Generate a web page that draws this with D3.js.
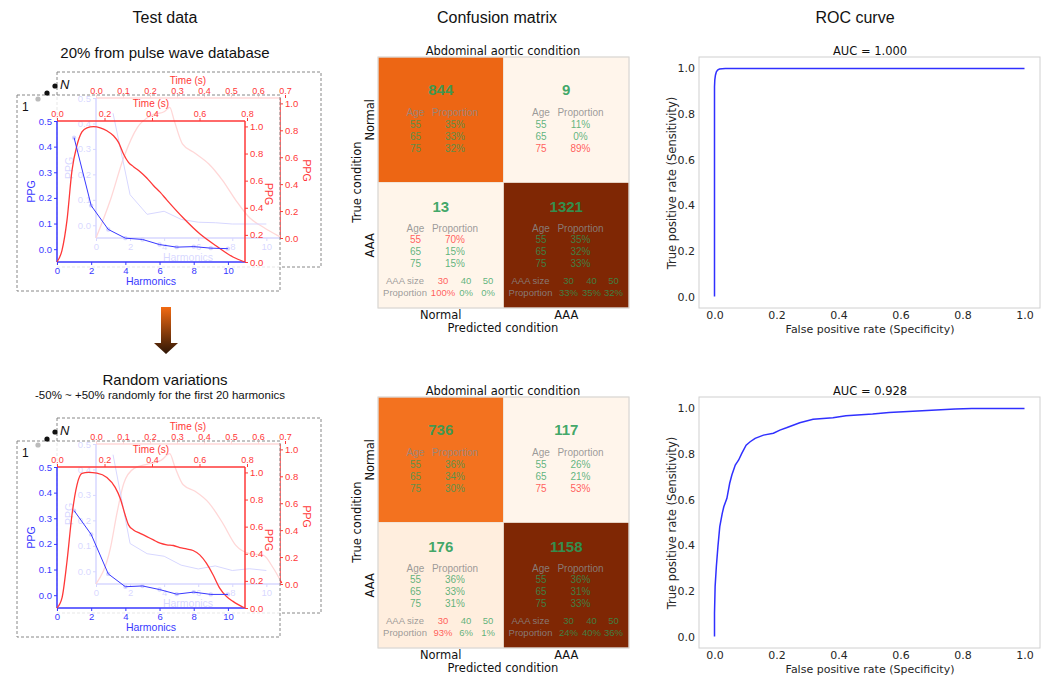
<!DOCTYPE html>
<html>
<head>
<meta charset="utf-8">
<script src="https://cdn.jsdelivr.net/npm/d3@7"></script>
<style>
  body { margin: 0; background: #fff; }
</style>
</head>
<body>
<div id="chart"></div>
<script>
// ---- data ----
const harmonics = [1, 2, 3, 4, 5, 6, 7, 8, 9, 10];
const harmTop = [0.435, 0.17, 0.077, 0.043, 0.038, 0.018, 0.008, 0.01, 0.004, 0.002];
const harmTopBack = [0.44, 0.12, 0.043, 0.055, 0.023, 0.012, 0.01, 0.005, 0.005, 0.005];
const harmBot = [0.33, 0.237, 0.083, 0.033, 0.036, 0.022, 0.004, 0.012, 0.003, 0.003];
const harmBotBack = [0.458, 0.109, 0.069, 0.059, 0.024, 0.009, 0.021, 0.003, 0.01, 0.003];

const waveTimeTop = [0, 0.021, 0.042, 0.063, 0.084, 0.105, 0.126, 0.154, 0.182, 0.21, 0.238, 0.259, 0.28, 0.301, 0.322, 0.35, 0.378, 0.406, 0.434, 0.462, 0.531, 0.601, 0.671, 0.741, 0.79];
const wavePpgTop = [0, 0.086, 0.307, 0.674, 0.86, 0.96, 0.99, 0.998, 0.99, 0.968, 0.931, 0.882, 0.797, 0.735, 0.703, 0.666, 0.62, 0.564, 0.515, 0.458, 0.326, 0.208, 0.118, 0.037, 0];
const backTimeTop = [0, 0.053, 0.103, 0.153, 0.204, 0.254, 0.273, 0.29, 0.32, 0.367, 0.418, 0.468, 0.518, 0.569, 0.62, 0.68];
const backPpgTop = [0, 0.28, 0.6, 0.82, 0.91, 0.94, 0.97, 0.87, 0.7, 0.63, 0.55, 0.43, 0.28, 0.15, 0.08, 0.01];

const waveTimeBot = [0, 0.021, 0.042, 0.063, 0.084, 0.105, 0.133, 0.168, 0.21, 0.245, 0.266, 0.287, 0.301, 0.322, 0.35, 0.378, 0.406, 0.434, 0.462, 0.49, 0.517, 0.545, 0.573, 0.601, 0.629, 0.657, 0.685, 0.713, 0.741, 0.79];
const wavePpgBot = [0, 0.074, 0.343, 0.686, 0.907, 0.993, 1.0, 0.995, 0.963, 0.89, 0.81, 0.686, 0.613, 0.576, 0.551, 0.527, 0.502, 0.478, 0.466, 0.461, 0.446, 0.436, 0.424, 0.392, 0.331, 0.245, 0.147, 0.086, 0.049, 0];
const backTimeBot = [0, 0.053, 0.078, 0.103, 0.141, 0.191, 0.242, 0.273, 0.292, 0.323, 0.367, 0.418, 0.468, 0.518, 0.569, 0.619, 0.657, 0.688];
const backPpgBot = [0, 0.263, 0.53, 0.749, 0.859, 0.89, 0.92, 0.968, 0.871, 0.737, 0.689, 0.603, 0.457, 0.287, 0.226, 0.214, 0.117, 0.007];

const cmLabels = ["Normal", "AAA"];
const ages = [55, 65, 75];
const aaaSizes = [30, 40, 50];
// cells in row-major order: [Normal/Normal, Normal/AAA, AAA/Normal, AAA/AAA]
const countsTop = [844, 9, 13, 1321];
const ageShareTop = [[35, 33, 32], [11, 0, 89], [70, 15, 15], [35, 32, 33]];
const sizeShareTop = [null, null, [100, 0, 0], [33, 35, 32]];
const redAgeTop = [-1, 2, 0, -1];
const redSizeTop = [-1, -1, 0, -1];

const countsBot = [736, 117, 176, 1158];
const ageShareBot = [[36, 34, 30], [26, 21, 53], [36, 33, 31], [36, 31, 33]];
const sizeShareBot = [null, null, [93, 6, 1], [24, 40, 36]];
const redAgeBot = [-1, 2, -1, -1];
const redSizeBot = [-1, -1, 0, -1];

const rocFprTop = [0, 0, 0.001, 0.003, 0.006, 0.01, 0.016, 0.025, 0.035, 1];
const rocTprTop = [0, 0.92, 0.95, 0.97, 0.985, 0.993, 0.997, 0.999, 1, 1];
const rocFprBot = [0, 0, 0.002, 0.006, 0.011, 0.017, 0.025, 0.03, 0.04, 0.049, 0.056, 0.067, 0.078, 0.088, 0.102, 0.115, 0.131, 0.158, 0.19, 0.211, 0.232, 0.275, 0.318, 0.382, 0.424, 0.51, 0.563, 0.67, 0.776, 0.83, 1];
const rocTprBot = [0, 0.102, 0.219, 0.307, 0.394, 0.482, 0.54, 0.569, 0.606, 0.672, 0.708, 0.752, 0.774, 0.803, 0.839, 0.854, 0.869, 0.883, 0.891, 0.905, 0.915, 0.937, 0.952, 0.959, 0.968, 0.975, 0.982, 0.99, 0.997, 1, 1];

const ppgTicks = [0, 0.1, 0.2, 0.3, 0.4, 0.5];
const ppgRightTicks = [0, 0.2, 0.4, 0.6, 0.8, 1.0];
const harmTicks = [0, 2, 4, 6, 8, 10];
const timeTicksFront = [0, 0.2, 0.4, 0.6, 0.8];
const timeTicksBack = [0, 0.1, 0.2, 0.3, 0.4, 0.5, 0.6, 0.7];
const rocTicks = [0, 0.2, 0.4, 0.6, 0.8, 1.0];

// ---- setup ----
const width = 1051;
const height = 675;
const SANS = "'Liberation Sans', Arial, sans-serif";
const MPL = "'DejaVu Sans', sans-serif";
const BLUE = "#3838ff";
const RED = "#ff3838";

const svg = d3
  .select("#chart")
  .append("svg")
  .attr("width", width)
  .attr("height", height)
  .style("font-family", SANS);

svg.append("rect").attr("width", width).attr("height", height).attr("fill", "#fff");

// column titles
[["Test data", 165], ["Confusion matrix", 497], ["ROC curve", 855]].forEach(([t, x]) => {
  svg.append("text").attr("x", x).attr("y", 17).attr("text-anchor", "middle")
    .attr("dominant-baseline", "central").style("font-size", "16px").attr("fill", "#111").text(t);
});

svg.append("text").attr("x", 165).attr("y", 52).attr("text-anchor", "middle")
  .attr("dominant-baseline", "central").style("font-size", "15px").attr("fill", "#111")
  .text("20% from pulse wave database");
svg.append("text").attr("x", 165).attr("y", 379).attr("text-anchor", "middle")
  .attr("dominant-baseline", "central").style("font-size", "15px").attr("fill", "#111")
  .text("Random variations");
svg.append("text").attr("x", 160).attr("y", 395).attr("text-anchor", "middle")
  .attr("dominant-baseline", "central").style("font-size", "11.5px").attr("fill", "#111")
  .text("-50% ~ +50% randomly for the first 20 harmonics");

// arrow between the two rows
const grad = svg.append("defs").append("linearGradient").attr("id", "arrowGrad")
  .attr("x1", 0).attr("y1", 0).attr("x2", 0).attr("y2", 1);
grad.append("stop").attr("offset", "0%").attr("stop-color", "#f26a12");
grad.append("stop").attr("offset", "100%").attr("stop-color", "#2e1606");
svg.append("path")
  .attr("d", "M161,307 L171,307 L171,343 L178,343 L166,354 L154,343 L161,343 Z")
  .attr("fill", "url(#arrowGrad)");

// ---- left panels: stacked Origin-like plots ----
function styleAxis(sel, color, size) {
  sel.select(".domain").remove();
  sel.selectAll("line").attr("stroke", color);
  sel.selectAll("text").attr("fill", color).style("font-size", size).style("font-family", SANS);
}

function drawWavePlot(g, box, sc, harm, wt, wp, offs) {
  const { x0, x1, y0, y1 } = box;
  // spines
  g.append("line").attr("x1", x0).attr("x2", x1).attr("y1", y0).attr("y2", y0).attr("stroke", RED).attr("stroke-width", 1.5);
  g.append("line").attr("x1", x1).attr("x2", x1).attr("y1", y0).attr("y2", y1).attr("stroke", RED).attr("stroke-width", 1.5);
  g.append("line").attr("x1", x0).attr("x2", x0).attr("y1", y0).attr("y2", y1).attr("stroke", BLUE).attr("stroke-width", 1.5);
  g.append("line").attr("x1", x0).attr("x2", x1).attr("y1", y1).attr("y2", y1).attr("stroke", BLUE).attr("stroke-width", 1.5);

  g.append("g").attr("transform", `translate(0,${y1})`)
    .call(d3.axisBottom(sc.x).tickValues(harmTicks).tickSize(3).tickPadding(2))
    .call(s => styleAxis(s, BLUE, "9.5px"));
  g.append("g").attr("transform", `translate(${x0},0)`)
    .call(d3.axisLeft(sc.yL).tickValues(ppgTicks).tickFormat(d3.format(".1f")).tickSize(3).tickPadding(2))
    .call(s => styleAxis(s, BLUE, "9.5px"));
  g.append("g").attr("transform", `translate(0,${y0})`)
    .call(d3.axisTop(sc.t).tickValues(sc.tTicks).tickFormat(d3.format(".1f")).tickSize(3).tickPadding(offs.topPad))
    .call(s => styleAxis(s, RED, "9px"));
  g.append("g").attr("transform", `translate(${x1},0)`)
    .call(d3.axisRight(sc.yR).tickValues(ppgRightTicks).tickFormat(d3.format(".1f")).tickSize(3).tickPadding(2))
    .call(s => styleAxis(s, RED, "9.5px"));

  // axis titles
  g.append("text").attr("x", (x0 + x1) / 2).attr("y", y0 - offs.top).attr("text-anchor", "middle")
    .attr("dominant-baseline", "central").style("font-size", "10px").attr("fill", RED).text("Time (s)");
  g.append("text").attr("x", (x0 + x1) / 2).attr("y", y1 + 19).attr("text-anchor", "middle")
    .attr("dominant-baseline", "central").style("font-size", "10.5px").attr("fill", BLUE).text("Harmonics");
  const ly = (y0 + y1) / 2;
  g.append("text").attr("transform", `translate(${x0 - offs.left},${ly}) rotate(-90)`)
    .attr("text-anchor", "middle").attr("dominant-baseline", "central")
    .style("font-size", "10.5px").attr("fill", BLUE).text("PPG");
  const ry = (sc.yR(0) + sc.yR(1)) / 2;
  g.append("text").attr("transform", `translate(${x1 + offs.right},${ry}) rotate(90)`)
    .attr("text-anchor", "middle").attr("dominant-baseline", "central")
    .style("font-size", "10.5px").attr("fill", RED).text("PPG");

  // red pulse wave
  const waveLine = d3.line().x((d, i) => sc.t(wt[i])).y(d => sc.yR(d)).curve(d3.curveMonotoneX);
  g.append("path").attr("d", waveLine(wp)).attr("fill", "none").attr("stroke", RED).attr("stroke-width", 1.3);

  // blue harmonics
  const harmLine = d3.line().x((d, i) => sc.x(harmonics[i])).y(d => sc.yL(d));
  g.append("path").attr("d", harmLine(harm)).attr("fill", "none").attr("stroke", BLUE).attr("stroke-width", 1);
  g.selectAll("circle.h").data(harm).join("circle").attr("class", "h")
    .attr("cx", (d, i) => sc.x(harmonics[i])).attr("cy", d => sc.yL(d))
    .attr("r", 2.2).attr("fill", BLUE);
}

function wavePanel(oy, harmFront, harmBack, wt, wp, bt, bp) {
  const g = svg.append("g").attr("transform", `translate(0,${oy})`);

  // back (Nth) sample
  g.append("rect").attr("x", 57).attr("y", 72).attr("width", 264).attr("height", 195)
    .attr("fill", "none").attr("stroke", "#888").attr("stroke-dasharray", "3,2");
  const backBox = { x0: 96, x1: 280, y0: 98, y1: 238 };
  drawWavePlot(g, backBox, {
    x: d3.scaleLinear([0, 10.8], [96, 280]),
    t: d3.scaleLinear([0, 0.7], [96, 285]),
    tTicks: timeTicksBack,
    yL: d3.scaleLinear([-0.05, 0.5], [238, 98]),
    yR: d3.scaleLinear([0, 1.04], [238, 98])
  }, harmBack, bt, bp, { left: 27, right: 27, top: 18, topPad: 1 });

  // front (1st) sample, veiled box
  g.append("rect").attr("x", 17).attr("y", 95).attr("width", 263).attr("height", 196)
    .attr("fill", "#fff").attr("fill-opacity", 0.8)
    .attr("stroke", "#888").attr("stroke-dasharray", "3,2");
  const frontBox = { x0: 57, x1: 245, y0: 121, y1: 262 };
  drawWavePlot(g, frontBox, {
    x: d3.scaleLinear([0, 11], [57, 245]),
    t: d3.scaleLinear([0, 0.8], [57, 247]),
    tTicks: timeTicksFront,
    yL: d3.scaleLinear([-0.05, 0.5], [262, 121]),
    yR: d3.scaleLinear([0, 1.04], [262, 121])
  }, harmFront, wt, wp, { left: 26, right: 24, top: 18, topPad: 1 });

  // stack marker
  g.append("circle").attr("cx", 38).attr("cy", 99).attr("r", 2.6).attr("fill", "#bbb");
  g.append("circle").attr("cx", 47).attr("cy", 93).attr("r", 2.6).attr("fill", "#111");
  g.append("circle").attr("cx", 55).attr("cy", 86).attr("r", 2.6).attr("fill", "#111");
  g.append("text").attr("x", 60).attr("y", 89).style("font-size", "13px").style("font-style", "italic")
    .attr("fill", "#111").text("N");
  g.append("text").attr("x", 22).attr("y", 111).style("font-size", "12px").attr("fill", "#111").text("1");
}

wavePanel(0, harmTop, harmTopBack, waveTimeTop, wavePpgTop, backTimeTop, backPpgTop);
wavePanel(346, harmBot, harmBotBack, waveTimeBot, wavePpgBot, backTimeBot, backPpgBot);

// ---- confusion matrices ----
const GREEN = "#2a9d58";
const CRED = "#ff2a2a";

function confMatrix(oy, counts, ageShare, sizeShare, redAge, redSize) {
  const g = svg.append("g").attr("transform", `translate(0,${oy})`);
  const x = d3.scaleBand(cmLabels, [378, 629]);
  const y = d3.scaleBand(cmLabels, [57, 308]);
  const color = d3.scaleSequential(d3.interpolateOranges).domain(d3.extent(counts));
  const cells = counts.map((v, i) => ({ v, i, r: Math.floor(i / 2), c: i % 2 }));

  g.selectAll("rect.cell").data(cells).join("rect").attr("class", "cell")
    .attr("x", d => x(cmLabels[d.c])).attr("y", d => y(cmLabels[d.r]))
    .attr("width", x.bandwidth()).attr("height", y.bandwidth())
    .attr("fill", d => color(d.v)).attr("stroke", "#efe4d8").attr("stroke-width", 0.8);
  g.append("rect").attr("x", 378).attr("y", 57).attr("width", 251).attr("height", 251)
    .attr("fill", "none").attr("stroke", "#d6d6d6");

  const txt = (cg, tx, ty, s, size, fill, op, weight) =>
    cg.append("text").attr("x", tx).attr("y", ty).attr("text-anchor", "middle")
      .attr("dominant-baseline", "central").style("font-size", size)
      .style("font-weight", weight || "normal").attr("fill", fill).attr("fill-opacity", op).text(s);

  cells.forEach(d => {
    const cg = g.append("g").attr("transform", `translate(${x(cmLabels[d.c])},${y(cmLabels[d.r])})`);
    const hasSize = sizeShare[d.i] != null;
    const off = hasSize ? [24, 46, 57, 69, 81] : [32, 55, 67, 79, 91];
    txt(cg, x.bandwidth() / 2, off[0], d.v, "15px", GREEN, 0.9, "bold");
    txt(cg, 37.5, off[1], "Age", "10px", "#8a8a8a", 0.85);
    txt(cg, 77, off[1], "Proportion", "10px", "#8a8a8a", 0.85);
    ages.forEach((a, k) => {
      const col = redAge[d.i] === k ? CRED : GREEN;
      txt(cg, 37.5, off[2 + k], a, "10px", col, 0.75);
      txt(cg, 77, off[2 + k], ageShare[d.i][k] + "%", "10px", col, 0.75);
    });
    if (hasSize) {
      txt(cg, 27, 98, "AAA size", "9.5px", "#8a8a8a", 0.85);
      txt(cg, 27, 110, "Proportion", "9.5px", "#8a8a8a", 0.85);
      aaaSizes.forEach((s, k) => {
        const col = redSize[d.i] === k ? CRED : GREEN;
        const sx = [65, 88, 110][k];
        txt(cg, sx, 98, s, "9.5px", col, 0.75);
        txt(cg, sx, 110, sizeShare[d.i][k] + "%", "9.5px", col, 0.75);
      });
    }
  });

  // labels
  const lab = (tx, ty, s, rot) => g.append("text")
    .attr("transform", `translate(${tx},${ty})` + (rot ? ` rotate(${rot})` : ""))
    .attr("text-anchor", "middle").attr("dominant-baseline", "central")
    .style("font-family", MPL).style("font-size", "11.5px").attr("fill", "#111").text(s);
  lab(503, 51, "Abdominal aortic condition");
  cmLabels.forEach(l => {
    lab(x(l) + x.bandwidth() / 2, 315, l);
    lab(370, y(l) + y.bandwidth() / 2, l, -90);
  });
  lab(503, 328, "Predicted condition");
  lab(357, 182, "True condition", -90);
}

confMatrix(0, countsTop, ageShareTop, sizeShareTop, redAgeTop, redSizeTop);
confMatrix(340, countsBot, ageShareBot, sizeShareBot, redAgeBot, redSizeBot);

// ---- ROC curves ----
function rocPanel(oy, fpr, tpr, auc) {
  const g = svg.append("g").attr("transform", `translate(0,${oy})`).style("font-family", MPL);
  const x = d3.scaleLinear([-0.05, 1.05], [699, 1040]);
  const y = d3.scaleLinear([-0.05, 1.05], [308, 57]);
  g.append("rect").attr("x", 699).attr("y", 57).attr("width", 341).attr("height", 251)
    .attr("fill", "none").attr("stroke", "#d0d0d0");
  const ax = g.append("g").attr("transform", "translate(0,308)")
    .call(d3.axisBottom(x).tickValues(rocTicks).tickFormat(d3.format(".1f")).tickSize(0).tickPadding(3));
  const ay = g.append("g").attr("transform", "translate(699,0)")
    .call(d3.axisLeft(y).tickValues(rocTicks).tickFormat(d3.format(".1f")).tickSize(0).tickPadding(4));
  [ax, ay].forEach(a => {
    a.select(".domain").remove();
    a.selectAll("text").style("font-size", "11px").style("font-family", MPL).attr("fill", "#262626");
  });
  const line = d3.line().x((d, i) => x(fpr[i])).y(d => y(d));
  g.append("path").attr("d", line(tpr)).attr("fill", "none").attr("stroke", "#3030ff").attr("stroke-width", 1.5);
  g.append("text").attr("x", 870).attr("y", 51).attr("text-anchor", "middle").attr("dominant-baseline", "central")
    .style("font-size", "11.5px").attr("fill", "#111").text("AUC = " + auc);
  g.append("text").attr("x", 870).attr("y", 329).attr("text-anchor", "middle").attr("dominant-baseline", "central")
    .style("font-size", "11px").attr("fill", "#262626").text("False positive rate (Specificity)");
  g.append("text").attr("transform", "translate(672,183) rotate(-90)").attr("text-anchor", "middle")
    .attr("dominant-baseline", "central").style("font-size", "11.5px").attr("fill", "#262626")
    .text("True positive rate (Sensitivity)");
}

rocPanel(0, rocFprTop, rocTprTop, "1.000");
rocPanel(340, rocFprBot, rocTprBot, "0.928");
</script>
</body>
</html>
